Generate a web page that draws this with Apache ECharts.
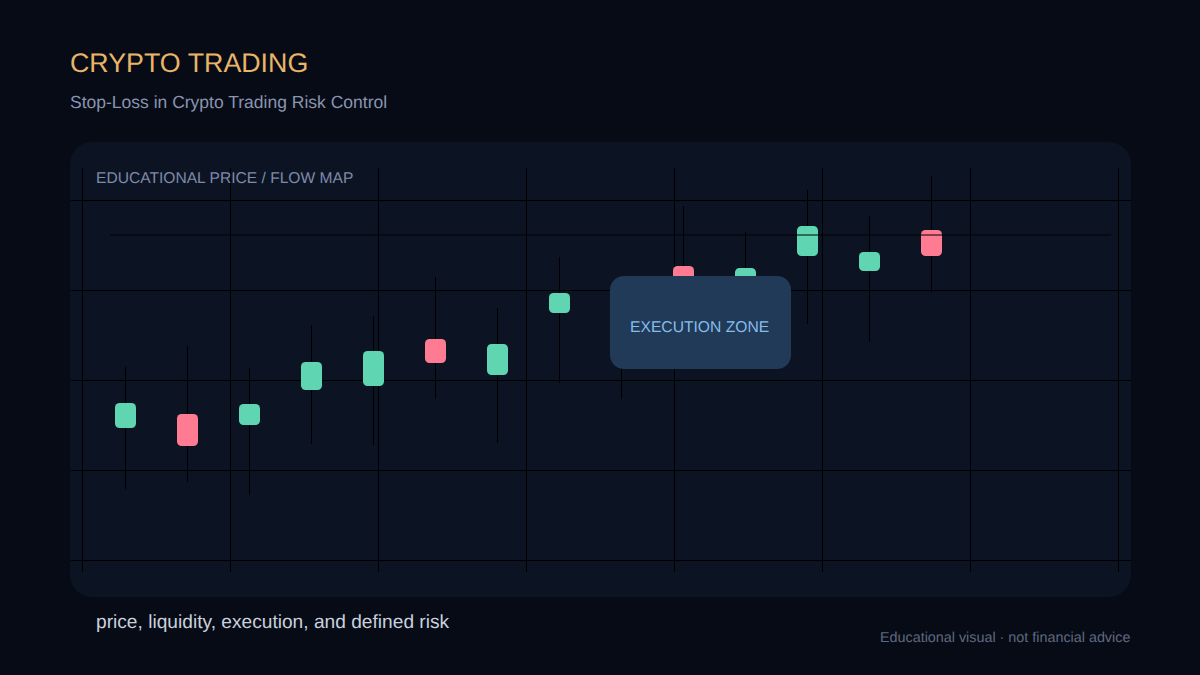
<!DOCTYPE html>
<html>
<head>
<meta charset="utf-8">
<title>Crypto Trading</title>
<script src="https://cdn.jsdelivr.net/npm/echarts@6/dist/echarts.min.js"></script>
<style>
	html, body { margin: 0; padding: 0; background: #070b16; }
	#main { width: 1200px; height: 675px; }
	#main text { text-rendering: geometricPrecision; }
</style>
</head>
<body>
<div id="main"></div>
<script>
var titleText = 'CRYPTO TRADING';
var subTitleText = 'Stop-Loss in Crypto Trading Risk Control';
var panelText = 'EDUCATIONAL PRICE / FLOW MAP';
var zoneText = 'EXECUTION ZONE';
var captionText = 'price, liquidity, execution, and defined risk';
var noticeText = 'Educational visual · not financial advice';

// candles (price = height above the lowest grid line)
var categories = ['1', '2', '3', '4', '5', '6', '7', '8', '9', '10', '11', '12', '13', '14'];
var opens = [132, 146, 135, 170, 174, 221, 185, 247, 222, 294, 268, 304, 289, 330];
var closes = [157, 114, 156, 198, 209, 197, 216, 267, 248, 266, 292, 334, 308, 304];
var lows = [71, 78, 65, 116, 115, 161, 117, 177, 161, 222, 205, 236, 218, 268];
var highs = [193, 214, 192, 235, 244, 283, 252, 303, 278, 354, 328, 370, 344, 384];
var referenceLevel = 325;

var upColor = '#5fd6b1';
var downColor = '#ff7b91';
var lineColor = '#000000';
var fontName = '"Liberation Sans", Arial, sans-serif';

var candleData = [];
categories.forEach(function(element, index) {
	candleData.push([index, opens[index], closes[index], lows[index], highs[index]]);
});

function renderCandle(params, api) {
	var open = api.value(1);
	var close = api.value(2);
	var center = api.coord([api.value(0), open])[0];
	var top = api.coord([api.value(0), Math.max(open, close)])[1];
	var bottom = api.coord([api.value(0), Math.min(open, close)])[1];
	var low = api.coord([api.value(0), api.value(3)])[1];
	var high = api.coord([api.value(0), api.value(4)])[1];
	var wickX = Math.floor(center) + 0.5;
	return {
		type: 'group',
		children: [{
			type: 'line',
			shape: { x1: wickX, y1: high, x2: wickX, y2: low },
			style: { stroke: lineColor, lineWidth: 1 }
		}, {
			type: 'rect',
			shape: { x: wickX - 10.5, y: top, width: 21, height: bottom - top, r: 4.5 },
			style: { fill: close >= open ? upColor : downColor }
		}]
	};
}

// svg renderer: text is laid out without hinting, closer to the reference
var myChart = echarts.init(document.getElementById('main'), null, { renderer: 'svg' });

var option = {
	animation: false,
	backgroundColor: '#070b16',
	textStyle: {
		fontFamily: fontName
	},
	title: [{
		text: titleText,
		left: 70,
		top: 49,
		padding: 0,
		textStyle: { color: '#e8b468', fontSize: 26.8, fontWeight: 'normal' }
	}, {
		text: subTitleText,
		left: 70,
		top: 93,
		padding: 0,
		textStyle: { color: '#8a94b0', fontSize: 17.5, fontWeight: 'normal' }
	}],
	// panel and annotation box sit behind and above the series
	graphic: [{
		type: 'rect',
		z: -10,
		shape: { x: 70, y: 142, width: 1061, height: 455, r: 22 },
		style: { fill: '#0c1424' }
	}, {
		type: 'text',
		z: 1,
		x: 96,
		y: 170,
		style: { text: panelText, fill: '#7e8aa8', fontSize: 15.6, fontFamily: fontName }
	}, {
		type: 'rect',
		z: 100,
		shape: { x: 610, y: 276, width: 181, height: 93, r: 14 },
		style: { fill: '#203a58' }
	}, {
		type: 'text',
		z: 101,
		x: 630,
		y: 319,
		style: { text: zoneText, fill: '#86bdea', fontSize: 15.66, fontFamily: fontName }
	}, {
		type: 'text',
		z: 1,
		x: 96,
		y: 613,
		style: { text: captionText, fill: '#c9d0de', fontSize: 19.16, fontFamily: fontName }
	}, {
		type: 'text',
		z: 1,
		x: 880,
		y: 631,
		style: { text: noticeText, fill: '#5f6880', fontSize: 14.35, fontFamily: fontName }
	}],
	grid: [
		{ left: 71, width: 1060, top: 200, height: 360 }, // horizontal grid lines
		{ left: 82, width: 1036, top: 168, height: 404 }, // vertical grid lines
		{ left: 94, width: 868, top: 200, height: 360 }, // candles
		{ left: 110, width: 1001, top: 200, height: 360 } // reference line
	],
	xAxis: [
		{ gridIndex: 0, type: 'value', min: 0, max: 1, show: false },
		{
			gridIndex: 1,
			type: 'value',
			min: 0,
			max: 7,
			interval: 1,
			axisLine: { show: false },
			axisTick: { show: false },
			axisLabel: { show: false },
			splitLine: { show: true, lineStyle: { color: lineColor, width: 1 } }
		},
		{ gridIndex: 2, type: 'category', data: categories, show: false },
		{ gridIndex: 3, type: 'value', min: 0, max: 1, show: false }
	],
	yAxis: [
		{
			gridIndex: 0,
			type: 'value',
			min: 0,
			max: 360,
			interval: 90,
			axisLine: { show: false },
			axisTick: { show: false },
			axisLabel: { show: false },
			splitLine: { show: true, lineStyle: { color: lineColor, width: 1 } }
		},
		{ gridIndex: 1, type: 'value', min: 0, max: 1, show: false },
		{ gridIndex: 2, type: 'value', min: 0, max: 360, show: false },
		{ gridIndex: 3, type: 'value', min: 0, max: 360, show: false }
	],
	series: [{
		type: 'custom',
		xAxisIndex: 2,
		yAxisIndex: 2,
		z: 5,
		clip: false,
		silent: true,
		data: candleData,
		renderItem: renderCandle
	}, {
		type: 'line',
		xAxisIndex: 3,
		yAxisIndex: 3,
		z: 6,
		silent: true,
		showSymbol: false,
		lineStyle: { color: lineColor, width: 1 },
		data: [[0, referenceLevel], [1, referenceLevel]]
	}]
};

myChart.setOption(option);
</script>
</body>
</html>
